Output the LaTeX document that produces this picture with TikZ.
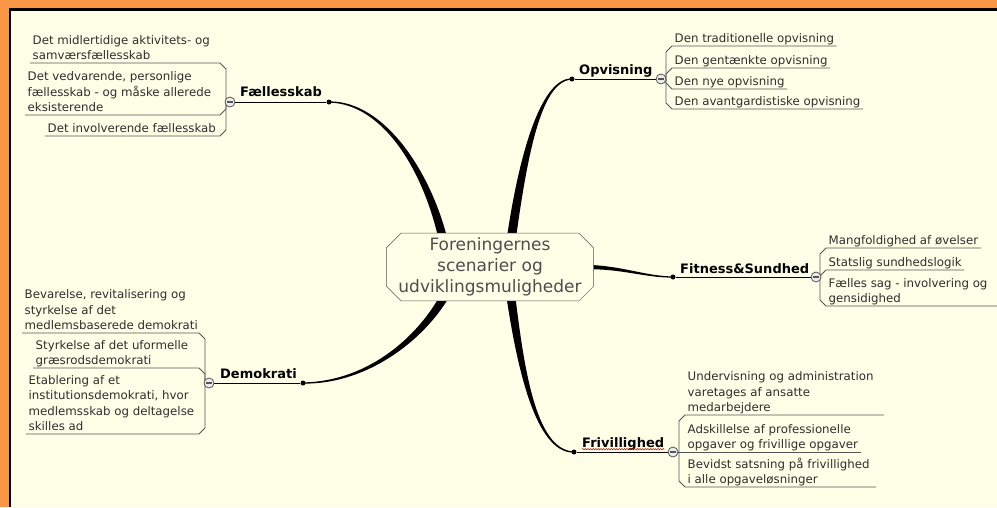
\documentclass[tikz,border=0pt]{standalone}
\usepackage{fontspec}
\setmainfont{DejaVu Sans}
\usepackage{xcolor}
\usetikzlibrary{positioning,calc,shapes.misc,decorations.pathmorphing}
\definecolor{frame}{HTML}{F99747}
\definecolor{paper}{HTML}{FFFFE8}
\definecolor{ink}{HTML}{2E2E2E}
\definecolor{rule}{HTML}{555555}

\begin{document}
\begin{tikzpicture}[x=1pt, y=-1pt,
  topic/.style={chamfered rectangle, chamfered rectangle xsep=11pt, draw=rule, fill=paper, align=center,
    text=ink!85!white, font=\fontsize{17}{21}\selectfont, minimum width=186, minimum height=64, inner sep=1pt},
  head/.style={anchor=base west, inner sep=0pt, font=\bfseries\fontsize{13}{15}\selectfont},
  leaf/.style={anchor=south west, align=left, inner xsep=2.5pt, inner ysep=0pt, text=ink,
    font=\fontsize{11.8}{15.5}\selectfont, execute at end node={\rule[-3.2pt]{0pt}{10pt}}},
  dot/.style={circle, fill=black, inner sep=0pt, minimum size=5},
  knob/.style={circle, draw=rule, line width=0.8pt, fill=white!85!gray, inner sep=0pt, minimum size=10,
    path picture={\draw[line width=1.4pt, rule] ([xshift=-2.6pt]path picture bounding box.center) -- ([xshift=2.6pt]path picture bounding box.center);}},
  stem/.style={line width=0.9pt},
  twig/.style={draw=rule, line width=0.8pt},
  branch/.style={fill=black}
]
\useasboundingbox (0,0) rectangle (997,507);
\fill[frame] (0,0) rectangle (997,507);
\fill[paper] (11,11) rectangle (997,507);
\draw[line width=2.5pt] (10,507) -- (10,9.5) -- (997,9.5);

% branch roots inside the central topic
\coordinate (fk-root) at (445,248);
\coordinate (op-root) at (510,248);
\coordinate (fs-root) at (585,267);
\coordinate (fr-root) at (510,290);
\coordinate (dk-root) at (448,290);

\node[dot] (fkd) at (329,102) {};
\node[dot] (opd) at (572,79) {};
\node[dot] (fsd) at (673,277) {};
\node[dot] (frd) at (574,452) {};
\node[dot] (dkd) at (303,383) {};

% tapered branches
\fill[branch] ($(fk-root)+(4.4,-0.9)$) .. controls (433.5,174.3) and (385,100.5) .. ($(fkd)+(0,-0.6)$)
  -- ($(fkd)+(0,0.6)$) .. controls (385,103.5) and (426.5,175.7) .. ($(fk-root)+(-4.4,0.9)$) -- cycle;
\fill[branch] ($(op-root)+(4.5,0.6)$) .. controls (526.5,160.5) and (540,80.5) .. ($(opd)+(0,0.6)$)
  -- ($(opd)+(0,-0.6)$) .. controls (540,77.5) and (517.5,159.5) .. ($(op-root)+(-4.5,-0.6)$) -- cycle;
\fill[branch] ($(fs-root)+(0,2.2)$) .. controls (622,268.6) and (645,277.8) .. ($(fsd)+(0,0.6)$)
  -- ($(fsd)+(0,-0.6)$) .. controls (645,276.2) and (622,265.4) .. ($(fs-root)+(0,-2.2)$) -- cycle;
\fill[branch] ($(fr-root)+(-4.5,0.6)$) .. controls (516.5,365.5) and (535,453.5) .. ($(frd)+(0,0.6)$)
  -- ($(frd)+(0,-0.6)$) .. controls (535,450.5) and (523.5,364.5) .. ($(fr-root)+(4.5,-0.6)$) -- cycle;
\fill[branch] ($(dk-root)+(-4,-2)$) .. controls (421.9,333.4) and (370,381.5) .. ($(dkd)+(0,-0.6)$)
  -- ($(dkd)+(0,0.6)$) .. controls (370,384.5) and (428.1,336.6) .. ($(dk-root)+(4,2)$) -- cycle;

\node[topic] (ctr) at (490,267) {Foreningernes\\scenarier og\\udviklingsmuligheder};

% Faellesskab
\node[head] (fk) at (240,96) {Fællesskab};
\coordinate (fkb) at (226,102);
\node[leaf] (fk1) at (30,63) {Det midlertidige aktivitets- og\\samværsfællesskab};
\node[leaf] (fk2) at (25,115) {Det vedvarende, personlige\\fællesskab - og måske allerede\\eksisterende};
\node[leaf] (fk3) at (45,136) {Det involverende fællesskab};
\draw[stem] (fkd) -- (fkb);
\draw[twig] (fk1.south west) -- ($(fkb|-fk1.south)+(-6,0)$) -- ($(fkb|-fk1.south)+(0,6)$) -- (fkb);
\draw[twig] (fk2.south west) -- ($(fkb|-fk2.south)+(-6,0)$) -- ($(fkb|-fk2.south)+(0,-6)$) -- (fkb);
\draw[twig] (fk3.south west) -- ($(fkb|-fk3.south)+(-6,0)$) -- ($(fkb|-fk3.south)+(0,-6)$) -- (fkb);
\node[knob] (fkk) at (230,102) {};

% Opvisning
\node[head] (op) at (579,74) {Opvisning};
\coordinate (opb) at (666,79);
\node[leaf] (op1) at (672,46) {Den traditionelle opvisning};
\node[leaf] (op2) at (672,68) {Den gentænkte opvisning};
\node[leaf] (op3) at (672,89) {Den nye opvisning};
\node[leaf] (op4) at (672,109) {Den avantgardistiske opvisning};
\draw[stem] (opd) -- (opb);
\draw[twig] (opb) -- ($(opb|-op1.south)+(0,6)$) -- (op1.south west) -- (op1.south east);
\draw[twig] (opb) -- ($(opb|-op2.south)+(0,6)$) -- (op2.south west) -- (op2.south east);
\draw[twig] (opb) -- ($(opb|-op3.south)+(0,-6)$) -- (op3.south west) -- (op3.south east);
\draw[twig] (opb) -- ($(opb|-op4.south)+(0,-6)$) -- (op4.south west) -- (op4.south east);
\node[knob] (opk) at (661,79) {};

% Fitness & Sundhed
\node[head] (fs) at (680,273) {Fitness\&Sundhed};
\coordinate (fsb) at (820,277);
\node[leaf] (fs1) at (826,248) {Mangfoldighed af øvelser};
\node[leaf] (fs2) at (826,270) {Statslig sundhedslogik};
\node[leaf] (fs3) at (826,306) {Fælles sag - involvering og\\gensidighed};
\draw[stem] (fsd) -- (fsb);
\draw[twig] (fsb) -- ($(fsb|-fs1.south)+(0,6)$) -- (fs1.south west) -- (fs1.south east);
\draw[twig] (fsb) -- ($(fsb|-fs2.south)+(0,6)$) -- (fs2.south west) -- (fs2.south east);
\draw[twig] (fsb) -- ($(fsb|-fs3.south)+(0,-6)$) -- (fs3.south west) -- (997,306);
\node[knob] (fsk) at (816,277) {};

% Frivillighed
\node[head] (fr) at (582,447) {Frivillighed};
\draw[red!85!black, line width=0.5pt, decorate, decoration={snake, amplitude=0.7pt, segment length=2.6pt}]
  ([yshift=-2.2pt]fr.base west) -- ([yshift=-2.2pt]fr.base east);
\coordinate (frb) at (679,452);
\node[leaf] (fr1) at (685,415) {Undervisning og administration\\varetages af ansatte\\medarbejdere};
\node[leaf] (fr2) at (685,452) {Adskillelse af professionelle\\opgaver og frivillige opgaver};
\node[leaf] (fr3) at (685,487) {Bevidst satsning på frivillighed\\i alle opgaveløsninger};
\draw[stem] (frd) -- (frb);
\draw[twig] (frb) -- ($(frb|-fr1.south)+(0,6)$) -- (fr1.south west) -- ($(fr1.south east)+(8,0)$);
\draw[twig] (frb) -- (fr2.south east);
\draw[twig] (frb) -- ($(frb|-fr3.south)+(0,-6)$) -- (fr3.south west) -- ($(fr3.south east)+(4,0)$);
\node[knob] (frk) at (673,452) {};

% Demokrati
\node[head] (dk) at (220,378) {Demokrati};
\coordinate (dkb) at (205,383);
\node[leaf] (dk1) at (22,333) {Bevarelse, revitalisering og\\styrkelse af det\\medlemsbaserede demokrati};
\node[leaf] (dk2) at (33,368) {Styrkelse af det uformelle\\græsrodsdemokrati};
\node[leaf] (dk3) at (26,434) {Etablering af et\\institutionsdemokrati, hvor\\medlemsskab og deltagelse\\skilles ad};
\draw[stem] (dkd) -- (dkb);
\draw[twig] (dk1.south west) -- ($(dkb|-dk1.south)+(-6,0)$) -- ($(dkb|-dk1.south)+(0,6)$) -- (dkb);
\draw[twig] (dk2.south west) -- ($(dkb|-dk2.south)+(-6,0)$) -- ($(dkb|-dk2.south)+(0,6)$) -- (dkb);
\draw[twig] (dk3.south west) -- ($(dkb|-dk3.south)+(-6,0)$) -- ($(dkb|-dk3.south)+(0,-6)$) -- (dkb);
\node[knob] (dkk) at (209,383) {};
\end{tikzpicture}
\end{document}
